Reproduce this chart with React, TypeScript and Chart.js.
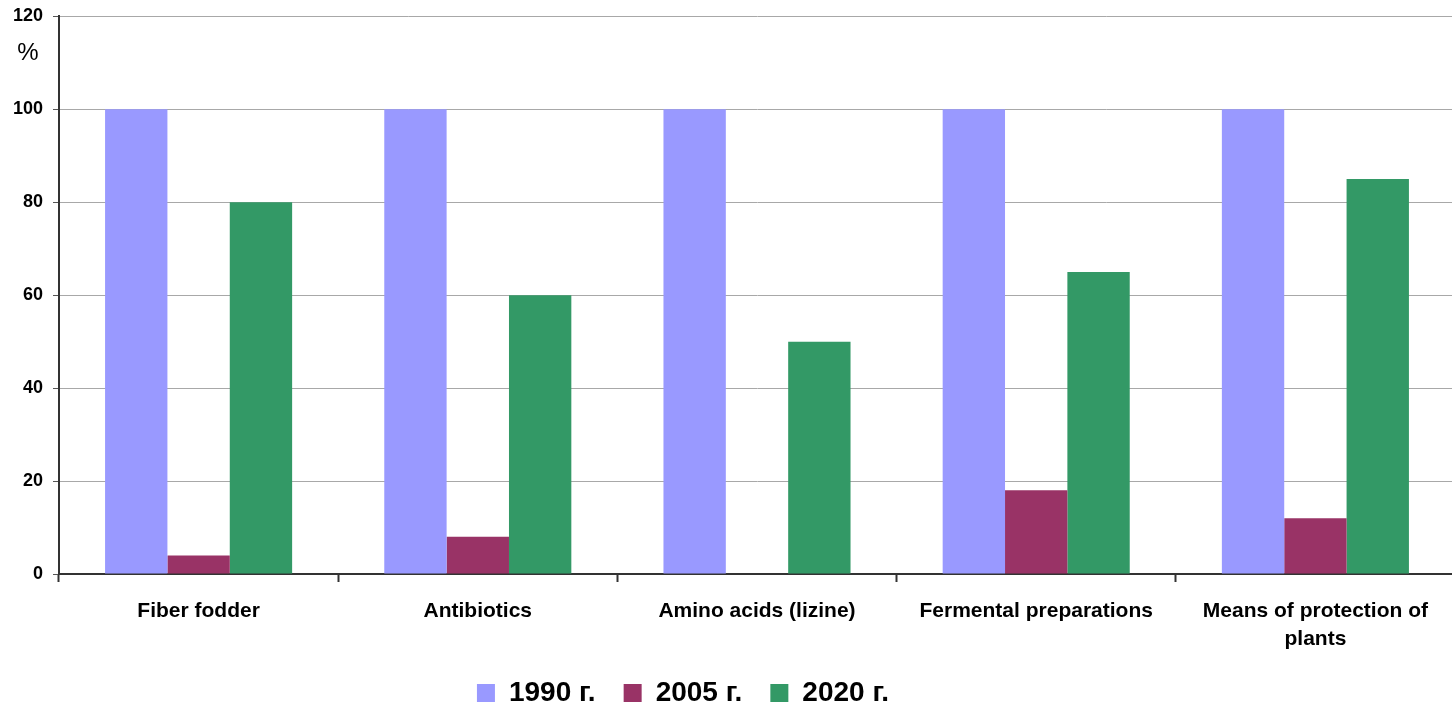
import React, { useEffect, useRef } from "react";
import { Chart, registerables } from "chart.js";

Chart.register(...registerables);

const categories: (string | string[])[] = [
  "Fiber fodder",
  "Antibiotics",
  "Amino acids (lizine)",
  "Fermental preparations",
  ["Means of protection of", "plants"],
];
const seriesNames = ["1990 г.", "2005 г.", "2020 г."];
const values1990 = [100, 100, 100, 100, 100];
const values2005 = [4, 8, 0, 18, 12];
const values2020 = [80, 60, 50, 65, 85];
const colors = ["#9999FF", "#993366", "#339966"];
const yTicks = [0, 20, 40, 60, 80, 100, 120];
const unitLabel = "%";

const FONT = "'Liberation Sans', Arial, sans-serif";

const percentPlugin = {
  id: "percentLabel",
  afterLayout(chart: any) {
    const lg = chart.legend;
    if (lg) {
      const h = lg.height;
      lg.top = 651;
      lg.bottom = 651 + h;
      lg.left = 0;
      lg.right = 1366;
    }
  },
  afterDraw(chart: any) {
    const ctx = chart.ctx;
    ctx.save();
    ctx.font = `24px ${FONT}`;
    ctx.fillStyle = "#000";
    ctx.textAlign = "center";
    ctx.textBaseline = "middle";
    ctx.fillText(unitLabel, 28, 53);
    ctx.restore();
  },
};

export default function App() {
  const ref = useRef<HTMLCanvasElement>(null);
  useEffect(() => {
    if (!ref.current) return;
    const chart = new Chart(ref.current, {
      type: "bar",
      data: {
        labels: categories,
        datasets: [values1990, values2005, values2020].map((d, i) => ({
          label: seriesNames[i],
          data: d,
          backgroundColor: colors[i],
          borderWidth: 0,
          categoryPercentage: 0.67,
          barPercentage: 1,
        })),
      },
      options: {
        animation: false,
        responsive: false,
        maintainAspectRatio: false,
        layout: { padding: { top: 1, right: 0, bottom: -20, left: 0 } },
        plugins: {
          tooltip: { enabled: false },
          legend: {
            position: "bottom",
            labels: {
              boxWidth: 18,
              boxHeight: 18,
              padding: 28,
              color: "#000",
              font: { family: FONT, size: 28, weight: "bold" },
            },
          },
        },
        scales: {
          x: {
            offset: true,
            afterFit(scale: any) {
              scale.height = 87;
            },
            grid: {
              display: true,
              drawOnChartArea: false,
              offset: true,
              tickLength: 8,
              tickColor: "#333",
              tickWidth: 2,
            },
            border: { color: "#333", width: 2 },
            ticks: {
              color: "#000",
              padding: 16,
              maxRotation: 0,
              autoSkip: false,
              font: { family: FONT, size: 21, weight: "bold", lineHeight: 1.3 },
            },
          },
          y: {
            min: 0,
            max: 120,
            afterFit(scale: any) {
              scale.width = 59;
            },
            afterBuildTicks(scale: any) {
              scale.ticks = yTicks.map((v) => ({ value: v }));
            },
            grid: {
              color: "#a8a8a8",
              tickColor: "#555",
              tickLength: 6,
            },
            border: { color: "#333", width: 2 },
            ticks: {
              color: "#000",
              padding: 10,
              font: { family: FONT, size: 18, weight: "bold", lineHeight: 0.7 },
            },
          },
        },
      },
      plugins: [percentPlugin],
    });
    return () => chart.destroy();
  }, []);
  return (
    <div
      style={{
        position: "fixed",
        left: 0,
        top: 0,
        width: 1452,
        height: 707,
        overflow: "hidden",
        background: "#fff",
      }}
    >
      <canvas ref={ref} width={1455} height={707} style={{ display: "block" }} />
    </div>
  );
}
